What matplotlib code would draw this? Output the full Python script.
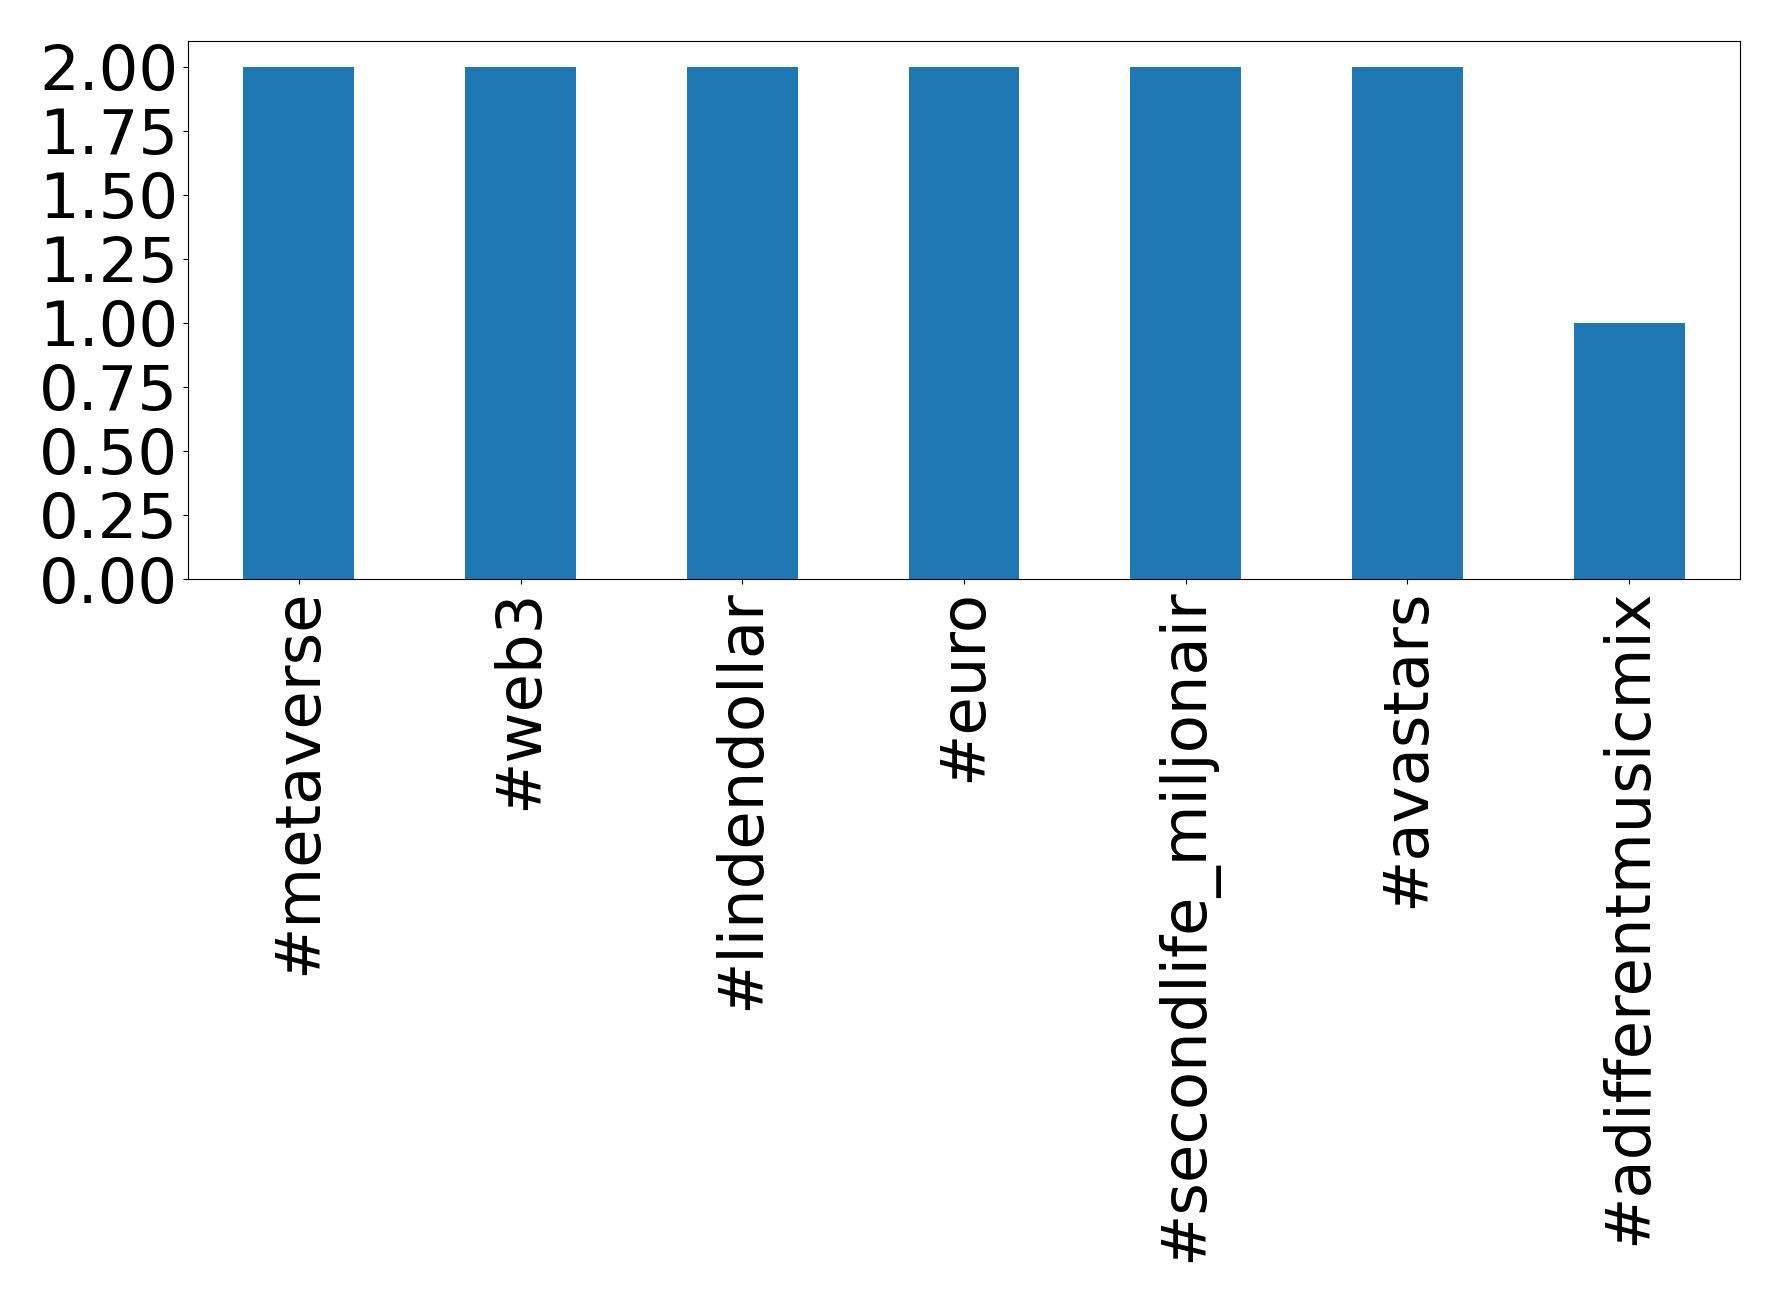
import matplotlib
matplotlib.use("Agg")
import matplotlib.pyplot as plt

categories = ["#metaverse", "#web3", "#lindendollar", "#euro",
              "#secondlife_miljonair", "#avastars", "#adifferentmusicmix"]
counts = [2, 2, 2, 2, 2, 2, 1]

fig = plt.figure(figsize=(17.78, 13.02), dpi=100)
ax = fig.add_axes([188/1778, 1 - 579/1302, (1740-188)/1778, (579-41)/1302])
x = list(range(len(categories)))
ax.bar(x, counts, width=0.5, color="#1f77b4")
ax.set_xlim(-0.5, len(categories) - 0.5)
ax.set_ylim(0, 2.1)
yt = [0, 0.25, 0.5, 0.75, 1.0, 1.25, 1.5, 1.75, 2.0]
ax.set_yticks(yt)
ax.set_yticklabels([f"{v:.2f}" for v in yt])
ax.set_xticks(x)
ax.set_xticklabels(categories, rotation=90)
ax.tick_params(labelsize=45)
fig.savefig("out.png", dpi=100)
